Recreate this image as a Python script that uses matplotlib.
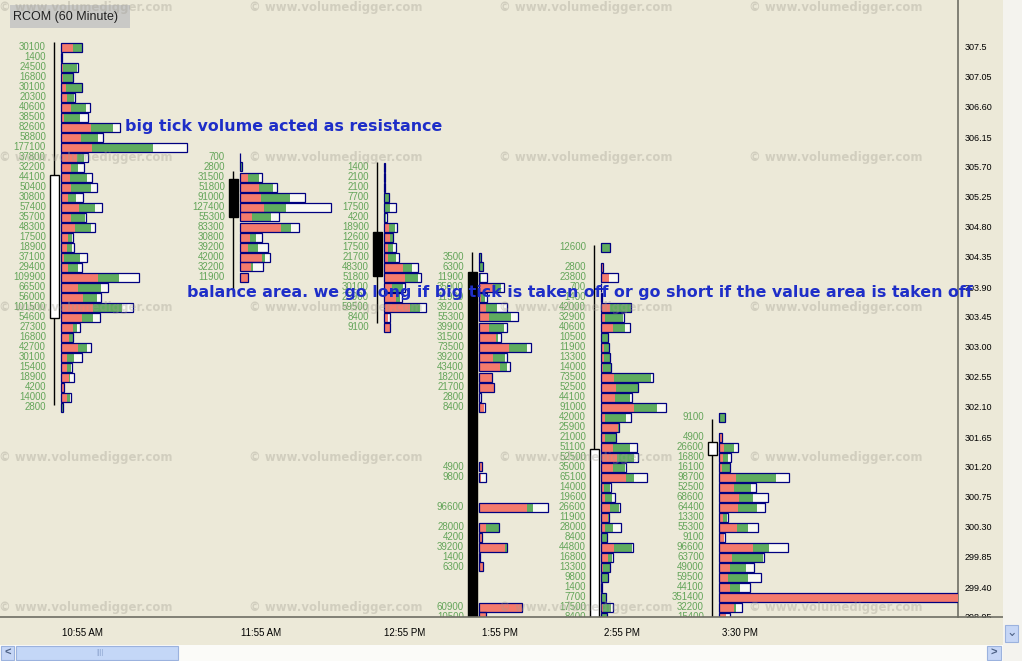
import numpy as np
import matplotlib
matplotlib.use("Agg")
import matplotlib.pyplot as plt
from matplotlib.patches import Rectangle
from matplotlib.lines import Line2D

plt.rcParams['font.family'] = ['Liberation Sans', 'DejaVu Sans']

W, H = 1022, 661

# price grid: every profile row is one 0.15 step
row_step = 0.15
price_ticks = [307.5, 307.05, 306.60, 306.15, 305.70, 305.25, 304.80, 304.35, 303.90,
               303.45, 303.00, 302.55, 302.10, 301.65, 301.20, 300.75, 300.30, 299.85,
               299.40, 298.95]
price_tick_labels = ["307.5", "307.05", "306.60", "306.15", "305.70", "305.25", "304.80",
                     "304.35", "303.90", "303.45", "303.00", "302.55", "302.10", "301.65",
                     "301.20", "300.75", "300.30", "299.85", "299.40", "298.95"]
time_labels = ["10:55 AM", "11:55 AM", "12:55 PM", "1:55 PM", "2:55 PM", "3:30 PM"]

# volume at price per hour (0 = no trade at that level), red / green split of it
c1_top = 307.5
c1_vol = [30100, 1400, 24500, 16800, 30100, 20300, 40600, 38500, 82600, 58800, 177100,
          37800, 32200, 44100, 50400, 30800, 57400, 35700, 48300, 17500, 18900, 37100,
          29400, 109900, 66500, 56000, 101500, 54600, 27300, 16800, 42700, 30100, 15400,
          18900, 4200, 14000, 2800]
c1_red = [16800, 0, 2800, 2800, 7000, 8400, 14000, 4200, 42000, 28000, 43400, 22400, 14000,
          12600, 14000, 9800, 25200, 14000, 19600, 9800, 8400, 4200, 9800, 51800, 23800,
          30800, 44800, 29400, 16800, 11200, 23800, 8400, 8400, 11200, 4200, 8400, 1400]
c1_green = [12600, 0, 19600, 14000, 22400, 9800, 21000, 22400, 30800, 23800, 85400, 9800,
            9800, 23800, 28000, 11200, 22400, 19600, 22400, 5600, 7000, 22400, 14000, 29400,
            32200, 19600, 40600, 15400, 5600, 5600, 12600, 9800, 5600, 1400, 0, 4200, 1400]

c2_top = 305.85
c2_vol = [700, 2800, 31500, 51800, 91000, 127400, 55300, 83300, 30800, 39200, 42000, 32200, 11900]
c2_red = [0, 0, 11200, 26600, 29400, 33600, 16800, 57400, 14000, 11200, 30800, 15400, 11200]
c2_green = [0, 2800, 15400, 19600, 40600, 30800, 26600, 14000, 8400, 14000, 4200, 2800, 0]

c3_top = 305.70
c3_vol = [1400, 2100, 2100, 7700, 17500, 4200, 18900, 12600, 17500, 21700, 48300, 51800,
          30100, 25900, 59500, 8400, 9100]
c3_red = [0, 0, 0, 0, 0, 0, 7000, 8400, 5600, 5600, 26600, 29400, 11200, 16800, 36400, 5600, 8400]
c3_green = [0, 0, 0, 7000, 8400, 2800, 8400, 4200, 7000, 11200, 12600, 18200, 15400, 5600,
            14000, 0, 0]

c4_top = 304.35
c4_vol = [3500, 6300, 11900, 35000, 11900, 39200, 55300, 39900, 31500, 73500, 39200, 43400,
          18200, 21700, 2800, 8400, 0, 0, 0, 0, 0, 4900, 9800, 0, 0, 96600, 0, 28000, 4200,
          39200, 1400, 6300, 0, 0, 0, 60900, 10500]
c4_red = [0, 0, 0, 19600, 2800, 9800, 14000, 14000, 23800, 42000, 19600, 29400, 18200, 21000,
          0, 7000, 0, 0, 0, 0, 0, 4200, 2800, 0, 0, 67200, 0, 9800, 4200, 36400, 1400, 6300,
          0, 0, 0, 60200, 9800]
c4_green = [3500, 5600, 2800, 11200, 5600, 15400, 30800, 21000, 2800, 25200, 16800, 9800, 0,
            0, 0, 0, 0, 0, 0, 0, 0, 0, 0, 0, 0, 8400, 0, 18200, 0, 2800, 0, 0, 0, 0, 0, 0, 0]

c5_top = 304.50
c5_vol = [12600, 0, 2800, 23800, 700, 1400, 42000, 32900, 40600, 10500, 11900, 13300, 14000,
          73500, 52500, 44100, 91000, 42000, 25900, 21000, 51100, 52500, 35000, 65100, 14000,
          19600, 26600, 11900, 28000, 8400, 44800, 16800, 13300, 9800, 1400, 7700, 17500, 8400]
c5_red = [0, 0, 2800, 11200, 0, 0, 12600, 5600, 16800, 1400, 4200, 4200, 2800, 18200, 21000,
          19600, 46200, 5600, 23800, 5600, 16800, 22400, 16800, 35000, 4200, 5600, 12600,
          9800, 5600, 1400, 18200, 9800, 2800, 1400, 0, 1400, 2800, 1400]
c5_green = [12600, 0, 0, 0, 0, 0, 29400, 25200, 16800, 8400, 7000, 8400, 11200, 51800, 30800,
            21000, 32200, 29400, 1400, 15400, 23800, 23800, 16800, 11200, 8400, 9800, 12600,
            1400, 11200, 7000, 25200, 5600, 9800, 8400, 0, 5600, 11200, 7000]

c6_top = 301.95
c6_vol = [9100, 0, 4900, 26600, 16800, 16100, 98700, 52500, 68600, 64400, 13300, 55300, 9100,
          96600, 63700, 49000, 59500, 44100, 351400, 32200, 15400]
c6_red = [0, 0, 4200, 7000, 5600, 4200, 23800, 21000, 28000, 26600, 5600, 25200, 7000, 47600,
          18200, 15400, 12600, 15400, 351400, 21000, 9800]
c6_green = [8400, 0, 0, 14000, 7000, 11200, 56000, 23800, 19600, 26600, 5600, 15400, 0, 22400,
            43400, 22400, 28000, 14000, 0, 2800, 0]

# hourly candles
c_open = [303.435, 305.52, 304.725, 304.125, 298.70, 301.38]
c_close = [305.58, 304.95, 304.065, 298.70, 301.47, 301.575]
c_high = [307.575, 305.64, 305.775, 304.425, 304.53, 301.92]
c_low = [302.13, 303.795, 303.36, 298.70, 298.70, 298.70]

profiles = [(c1_top, c1_vol, c1_red, c1_green), (c2_top, c2_vol, c2_red, c2_green),
            (c3_top, c3_vol, c3_red, c3_green), (c4_top, c4_vol, c4_red, c4_green),
            (c5_top, c5_vol, c5_red, c5_green), (c6_top, c6_vol, c6_red, c6_green)]

# layout (pixel units along x)
col_base = [61, 240, 384, 479, 601, 719]
px_per_vol = 126 / 177100
bar_h = 0.135

bg = "#ece9d8"
red_c = "#f47a6c"
green_c = "#5fac5f"
navy = "#000080"
box_fill = "#fafaf4"
lbl_green = "#64a55a"
blue_txt = "#1e2ec8"

fig = plt.figure(figsize=(W / 100, H / 100), dpi=100, facecolor=bg)
ax = fig.add_axes([0, 44 / H, 958 / W, 617 / H])
ax.set_facecolor(bg)
ax.set_xlim(0, 958)
ax.set_ylim(298.95, 307.5 + 47 * 0.015)

for (top, vol, red, green), base in zip(profiles, col_base):
    vol = np.array(vol, float)
    red = np.array(red, float)
    green = np.array(green, float)
    price = top - row_step * np.arange(len(vol))
    has = vol > 0
    p = price[has]
    ax.barh(p, vol[has] * px_per_vol, left=base, height=bar_h, color=box_fill, zorder=2)
    ax.barh(p, red[has] * px_per_vol, left=base, height=bar_h, color=red_c, zorder=3)
    ax.barh(p, green[has] * px_per_vol, left=base + red[has] * px_per_vol, height=bar_h,
            color=green_c, zorder=3)
    ax.barh(p, vol[has] * px_per_vol, left=base, height=bar_h, fill=False,
            edgecolor=navy, linewidth=0.9, zorder=4)
    for pr, v in zip(p, vol[has]):
        ax.text(base - 15, pr, "%d" % v, ha='right', va='center', fontsize=7,
                color=lbl_green, zorder=5, clip_on=True)

# candles sit just left of each profile
cx = np.array(col_base) - 7
ax.vlines(cx, c_low, c_high, color='black', linewidth=1.0, zorder=5)
o = np.array(c_open)
c = np.array(c_close)
body_col = ['white' if cc >= oo else 'black' for oo, cc in zip(o, c)]
ax.bar(cx, np.abs(c - o), bottom=np.minimum(o, c), width=9, color=body_col,
       edgecolor='black', linewidth=1, zorder=6)

for s in ['top', 'left']:
    ax.spines[s].set_visible(False)
ax.spines['bottom'].set_visible(False)
ax.spines['right'].set_color('#6e6e64')
ax.spines['right'].set_linewidth(1.2)

ax.yaxis.tick_right()
ax.set_yticks(price_ticks)
ax.set_yticklabels(price_tick_labels, fontsize=6.5)
ax.tick_params(axis='y', length=0, pad=5)
ax.set_xticks(np.array(col_base) + 21)
ax.set_xticklabels(time_labels, fontsize=7)
ax.tick_params(axis='x', length=0, pad=8)

# watermark
for wy in [8, 158, 308, 458, 608]:
    for wx in [86, 336, 586, 836]:
        fig.text(wx / W, 1 - wy / H, "\u00a9 www.volumedigger.com", ha='center', va='center',
                 fontsize=8.5, fontweight='bold', family='DejaVu Sans', color='#a09c90',
                 alpha=0.35, zorder=8)

# notes
fig.text(125 / W, 1 - 127 / H, "big tick volume acted as resistance", ha='left', va='center',
         fontsize=11.4, fontweight='bold', family='DejaVu Sans', color=blue_txt, zorder=9)
fig.text(187 / W, 1 - 293 / H,
         "balance area. we go long if big tick is taken off or go short if the value area is taken off",
         ha='left', va='center', fontsize=11.4, fontweight='bold', family='DejaVu Sans',
         color=blue_txt, zorder=9)

# title tag
fig.patches.append(Rectangle((10 / W, 1 - 28 / H), 120 / W, 23 / H, transform=fig.transFigure,
                             facecolor='#c9c9c6', edgecolor='none', zorder=7))
fig.text(13 / W, 1 - 17 / H, "RCOM (60 Minute)", ha='left', va='center', fontsize=9,
         color='#202020', zorder=8)

# window chrome: axis line, clipped price label, scrollbars
fig.patches.append(Rectangle((958 / W, 16 / H), 45 / W, 27 / H, transform=fig.transFigure,
                             facecolor=bg, edgecolor='none', zorder=2))
fig.lines.append(Line2D([0, 1003 / W], [1 - 617 / H] * 2, transform=fig.transFigure,
                        color='#6e6e64', linewidth=1.2, zorder=3))
fig.patches.append(Rectangle((1003 / W, 0), 19 / W, 1, transform=fig.transFigure,
                             facecolor='#f4f3ee', edgecolor='none', zorder=3))
fig.patches.append(Rectangle((1005 / W, 1 - 642 / H), 13 / W, 17 / H, transform=fig.transFigure,
                             facecolor='#c6d6f6', edgecolor='#9bb2de', linewidth=0.8, zorder=4))
fig.text(1011.5 / W, 1 - 633 / H, "\u2304", ha='center', va='center', fontsize=9,
         color='#4d6185', family='DejaVu Sans', zorder=5)
fig.patches.append(Rectangle((0, 0), 1003 / W, 16 / H, transform=fig.transFigure,
                             facecolor='#fbfbf8', edgecolor='none', zorder=3))
fig.patches.append(Rectangle((1 / W, 1 / H), 13 / W, 14 / H, transform=fig.transFigure,
                             facecolor='#c6d6f6', edgecolor='#9bb2de', linewidth=0.8, zorder=4))
fig.patches.append(Rectangle((987 / W, 1 / H), 14 / W, 14 / H, transform=fig.transFigure,
                             facecolor='#c6d6f6', edgecolor='#9bb2de', linewidth=0.8, zorder=4))
fig.patches.append(Rectangle((16 / W, 1 / H), 162 / W, 14 / H, transform=fig.transFigure,
                             facecolor='#c4d7f7', edgecolor='#9bb2de', linewidth=0.8, zorder=4))
fig.text(7.5 / W, 8 / H, "<", ha='center', va='center', fontsize=8, fontweight='bold',
         color='#4d6185', zorder=5)
fig.text(994 / W, 8 / H, ">", ha='center', va='center', fontsize=8, fontweight='bold',
         color='#4d6185', zorder=5)
fig.text(100 / W, 8 / H, "||||", ha='center', va='center', fontsize=5, color='#8fa6d0', zorder=5)

fig.savefig("out.png", dpi=100, facecolor=bg)
